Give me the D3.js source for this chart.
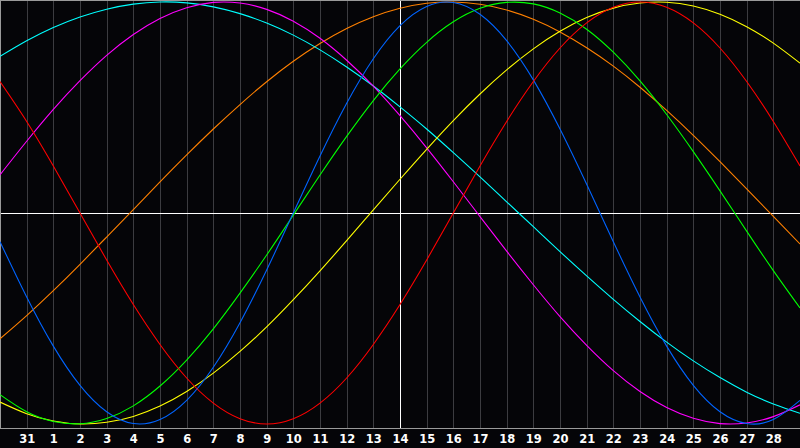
<!DOCTYPE html>
<html>
<head>
<meta charset="utf-8">
<script src="https://cdn.jsdelivr.net/npm/d3@7"></script>
<style>
  html, body { margin: 0; padding: 0; background: #050508; }
  svg { display: block; }
</style>
</head>
<body>
<svg id="chart" width="800" height="448"></svg>
<script>
// days along the bottom (first and last column are the chart edges, unlabelled)
var days = [30, 31, 1, 2, 3, 4, 5, 6, 7, 8, 9, 10, 11, 12, 13, 14, 15, 16, 17, 18, 19, 20, 21, 22, 23, 24, 25, 26, 27, 28, 29];
var today = 14;

// cycle values read at each day column, -1 .. 1
var physical = [-0.136, -0.398, -0.631, -0.817, -0.942, -0.998, -0.979, -0.888, -0.731, -0.520, -0.270, 0.000, 0.270, 0.520, 0.731, 0.888, 0.979, 0.998, 0.942, 0.817, 0.631, 0.398, 0.136, -0.136, -0.398, -0.631, -0.817, -0.942, -0.998, -0.979, -0.888];
var emotional = [0.623, 0.434, 0.223, 0.000, -0.223, -0.434, -0.623, -0.782, -0.901, -0.975, -1.000, -0.975, -0.901, -0.782, -0.623, -0.434, -0.223, 0.000, 0.223, 0.434, 0.623, 0.782, 0.901, 0.975, 1.000, 0.975, 0.901, 0.782, 0.623, 0.434, 0.223];
var intellectual = [-0.861, -0.942, -0.988, -0.999, -0.974, -0.914, -0.820, -0.697, -0.549, -0.380, -0.199, -0.010, 0.180, 0.363, 0.533, 0.683, 0.809, 0.906, 0.970, 0.998, 0.991, 0.948, 0.871, 0.762, 0.626, 0.467, 0.291, 0.105, -0.086, -0.273, -0.450];
var intuitive = [0.181, 0.340, 0.491, 0.627, 0.747, 0.846, 0.922, 0.973, 0.998, 0.995, 0.965, 0.909, 0.828, 0.724, 0.601, 0.461, 0.309, 0.148, -0.017, -0.181, -0.340, -0.491, -0.627, -0.747, -0.846, -0.922, -0.973, -0.998, -0.995, -0.965, -0.909];
var aesthetic = [-0.896, -0.951, -0.986, -1.000, -0.992, -0.964, -0.915, -0.846, -0.759, -0.656, -0.540, -0.411, -0.274, -0.131, 0.015, 0.160, 0.302, 0.438, 0.564, 0.678, 0.778, 0.861, 0.926, 0.971, 0.995, 0.999, 0.981, 0.942, 0.883, 0.805, 0.710];
var awareness = [-0.596, -0.486, -0.368, -0.243, -0.114, 0.016, 0.147, 0.275, 0.398, 0.514, 0.622, 0.719, 0.803, 0.874, 0.930, 0.970, 0.994, 1.000, 0.989, 0.962, 0.918, 0.858, 0.783, 0.696, 0.596, 0.486, 0.368, 0.243, 0.114, -0.016, -0.147];
var spiritual = [0.742, 0.816, 0.879, 0.929, 0.966, 0.990, 1.000, 0.996, 0.977, 0.945, 0.900, 0.843, 0.773, 0.692, 0.602, 0.503, 0.398, 0.286, 0.171, 0.053, -0.065, -0.183, -0.298, -0.409, -0.514, -0.612, -0.701, -0.780, -0.849, -0.905, -0.949];

var seriesNames = ["awareness", "spiritual", "intuitive", "aesthetic", "intellectual", "physical", "emotional"];
var seriesValues = [awareness, spiritual, intuitive, aesthetic, intellectual, physical, emotional];
var seriesColors = ["#ff8000", "#00ffff", "#ff00ff", "#ffff00", "#00ff00", "#0064ff", "#ff0000"];

var width = 800, plotBottom = 428;
var svg = d3.select("#chart");

var x = d3.scaleLinear()
    .domain([0, days.length - 1])
    .range([0, width]);

var y = d3.scaleLinear()
    .domain([-1, 1])
    .range([424, 2]);

// background
svg.append("rect")
    .attr("width", 800)
    .attr("height", 448)
    .attr("fill", "#050508");

// day columns
var grid = svg.append("g").attr("shape-rendering", "crispEdges");
grid.selectAll("line.day")
    .data(d3.range(1, days.length - 1))
    .enter()
    .append("line")
    .attr("class", "day")
    .attr("x1", (i) => Math.round(x(i)) + 0.5)
    .attr("x2", (i) => Math.round(x(i)) + 0.5)
    .attr("y1", 0)
    .attr("y2", plotBottom)
    .attr("stroke", (i) => days[i] === today ? "#ffffff" : "#3c3c40")
    .attr("stroke-width", 1);

// zero line
grid.append("line")
    .attr("x1", 0)
    .attr("x2", width)
    .attr("y1", Math.round(y(0)) + 0.5)
    .attr("y2", Math.round(y(0)) + 0.5)
    .attr("stroke", "#ffffff");

// frame
grid.append("path")
    .attr("d", "M0.5," + plotBottom + ".5V0.5H800M0," + plotBottom + ".5H800")
    .attr("fill", "none")
    .attr("stroke", "#9a9a9a");

// curves
var line = d3.line()
    .x((d, i) => x(i))
    .y((d) => y(d))
    .curve(d3.curveNatural);

svg.append("g")
    .selectAll("path")
    .data(seriesValues)
    .enter()
    .append("path")
    .attr("class", (d, i) => seriesNames[i])
    .attr("d", line)
    .attr("fill", "none")
    .attr("stroke", (d, i) => seriesColors[i])
    .attr("stroke-width", 1.1);

// day labels
svg.append("g")
    .selectAll("text")
    .data(d3.range(1, days.length - 1))
    .enter()
    .append("text")
    .attr("x", (i) => x(i) + 0.5)
    .attr("y", 443)
    .attr("text-anchor", "middle")
    .attr("fill", "#ffffff")
    .style("font-family", "'DejaVu Sans', Verdana, sans-serif")
    .style("font-weight", "bold")
    .style("font-size", "11.5px")
    .text((i) => days[i]);
</script>
</body>
</html>
